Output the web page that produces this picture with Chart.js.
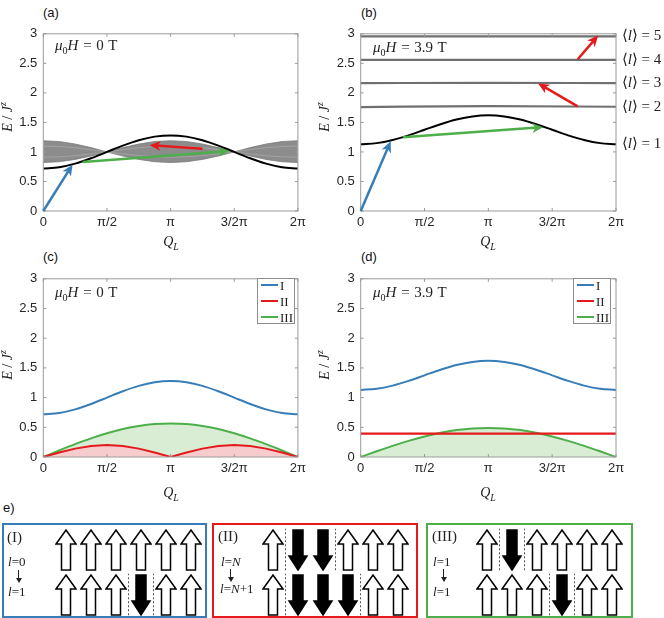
<!DOCTYPE html>
<html>
<head>
<meta charset="utf-8">
<script src="https://cdn.jsdelivr.net/npm/chart.js@4.4.1/dist/chart.umd.min.js"></script>
<style>
body { margin: 0; background: #fff; width: 664px; height: 618px; position: relative; overflow: hidden; font-family: "Liberation Sans", Arial, sans-serif; }
canvas { position: absolute; }
.pl { position: absolute; font-size: 13px; color: #111; line-height: 1; }
.m { position: absolute; font-family: "Liberation Serif", "DejaVu Serif", serif; font-size: 14px; color: #222; white-space: nowrap; line-height: 1; }
.mu { font-size: 15px; word-spacing: 1px; }
.mid { transform: translateY(-50%); }
.ctr { transform: translate(-50%, -50%); }
.ylab { transform: translate(-50%, -50%) rotate(-90deg); }
.m sub, .m sup { font-size: 10px; line-height: 0; }
.dn { position: absolute; width: 1px; height: 9px; background: #222; }
.dn::after { content: ""; position: absolute; left: -2.5px; top: 8px; border-left: 3px solid transparent; border-right: 3px solid transparent; border-top: 5px solid #222; }
.ebox { position: absolute; box-sizing: border-box; border: 2px solid; background: #fff; }
.lg { position: absolute; box-sizing: border-box; border: 1px solid #8c8c8c; background: #fff; }
.lg .ln { position: absolute; height: 2px; }
.lg .tx { position: absolute; font-family: "Liberation Serif", serif; font-size: 13px; color: #222; line-height: 1; transform: translateY(-50%); }
</style>
</head>
<body>
<canvas id="cA" width="310" height="221" style="left:0;top:20px"></canvas>
<canvas id="cB" width="346" height="221" style="left:318px;top:20px"></canvas>
<canvas id="cC" width="310" height="222" style="left:0;top:265px"></canvas>
<canvas id="cD" width="346" height="222" style="left:318px;top:265px"></canvas>

<div class="ebox" style="left:2px;top:523px;width:205px;height:95px;border-color:#377eb8"><canvas id="eI" width="201" height="91" style="left:0;top:0"></canvas></div>
<div class="ebox" style="left:212px;top:523px;width:206px;height:95px;border-color:#e41a1c"><canvas id="eII" width="202" height="91" style="left:0;top:0"></canvas></div>
<div class="ebox" style="left:426px;top:523px;width:207px;height:95px;border-color:#4daf4a"><canvas id="eIII" width="203" height="91" style="left:0;top:0"></canvas></div>

<div class="pl" style="left:43px;top:6px">(a)</div>
<div class="pl" style="left:361px;top:6px">(b)</div>
<div class="pl" style="left:43px;top:250px">(c)</div>
<div class="pl" style="left:361px;top:250px">(d)</div>
<div class="pl" style="left:3px;top:501px">e)</div>

<div class="m ylab" style="left:8px;top:117px"><i>E</i> / <i>J</i><sup><i>z</i></sup></div>
<div class="m ylab" style="left:325px;top:117px"><i>E</i> / <i>J</i><sup><i>z</i></sup></div>
<div class="m ylab" style="left:8px;top:365px"><i>E</i> / <i>J</i><sup><i>z</i></sup></div>
<div class="m ylab" style="left:325px;top:365px"><i>E</i> / <i>J</i><sup><i>z</i></sup></div>

<div class="m ctr" style="left:171px;top:242px"><i>Q</i><sub><i>L</i></sub></div>
<div class="m ctr" style="left:488px;top:242px"><i>Q</i><sub><i>L</i></sub></div>
<div class="m ctr" style="left:171px;top:493px"><i>Q</i><sub><i>L</i></sub></div>
<div class="m ctr" style="left:488px;top:493px"><i>Q</i><sub><i>L</i></sub></div>

<div class="m mu mid" style="left:55px;top:45px"><i>μ</i><sub>0</sub><i>H</i> = 0 T</div>
<div class="m mu mid" style="left:373px;top:47px"><i>μ</i><sub>0</sub><i>H</i> = 3.9 T</div>
<div class="m mu mid" style="left:55px;top:292px"><i>μ</i><sub>0</sub><i>H</i> = 0 T</div>
<div class="m mu mid" style="left:373px;top:292px"><i>μ</i><sub>0</sub><i>H</i> = 3.9 T</div>

<div class="m mid" style="left:7px;top:537px;font-size:15px">(I)</div>
<div class="m mid" style="left:8px;top:561px;font-size:13px"><i>l</i>=0</div>
<div class="dn" style="left:18px;top:570px"></div>
<div class="m mid" style="left:8px;top:591px;font-size:13px"><i>l</i>=1</div>

<div class="m mid" style="left:218px;top:536px;font-size:15px">(II)</div>
<div class="m mid" style="left:221px;top:561px;font-size:13px"><i>l</i>=<i>N</i></div>
<div class="dn" style="left:230px;top:569px"></div>
<div class="m mid" style="left:220px;top:588px;font-size:13px"><i>l</i>=<i>N</i>+1</div>

<div class="m mid" style="left:432px;top:536px;font-size:15px">(III)</div>
<div class="m mid" style="left:433px;top:561px;font-size:13px"><i>l</i>=1</div>
<div class="dn" style="left:443px;top:569px"></div>
<div class="m mid" style="left:433px;top:591px;font-size:13px"><i>l</i>=1</div>

<script>
// momentum grid (in units of pi) and tick labels
const Q = [0, 0.125, 0.25, 0.375, 0.5, 0.625, 0.75, 0.875, 1, 1.125, 1.25, 1.375, 1.5, 1.625, 1.75, 1.875, 2];
const qEnds = [0, 2];
const qMid = [0, 1, 2];
const qTicks = [0, 0.5, 1, 1.5, 2];
const qTickLabels = ["0", "π/2", "π", "3/2π", "2π"];
const eTicks = [0, 0.5, 1, 1.5, 2, 2.5, 3];

// (a) 0 T
const oneMagnonA = [0.72, 0.741, 0.802, 0.893, 1.0, 1.107, 1.198, 1.259, 1.28, 1.259, 1.198, 1.107, 1.0, 0.893, 0.802, 0.741, 0.72];
const bandUpA = [1.19, 1.176, 1.134, 1.073, 1.0, 1.073, 1.134, 1.176, 1.19, 1.176, 1.134, 1.073, 1.0, 1.073, 1.134, 1.176, 1.19];
const bandLowA = [0.82, 0.834, 0.873, 0.931, 1.0, 0.931, 0.873, 0.834, 0.82, 0.834, 0.873, 0.931, 1.0, 0.931, 0.873, 0.834, 0.82];
const bandInUpA = [1.1, 1.092, 1.071, 1.038, 1.0, 1.038, 1.071, 1.092, 1.1, 1.092, 1.071, 1.038, 1.0, 1.038, 1.071, 1.092, 1.1];
const bandInLowA = [0.91, 0.917, 0.936, 0.966, 1.0, 0.966, 0.936, 0.917, 0.91, 0.917, 0.936, 0.966, 1.0, 0.966, 0.936, 0.917, 0.91];

// (b) 3.9 T
const oneMagnonB = [1.13, 1.149, 1.202, 1.281, 1.375, 1.469, 1.548, 1.601, 1.62, 1.601, 1.548, 1.469, 1.375, 1.281, 1.202, 1.149, 1.13];
const level2B = [1.76, 1.775, 1.765];
const level3B = [2.165, 2.17, 2.165];
const level4B = [2.56, 2.56, 2.56];
const level5B = [2.955, 2.955, 2.955];
const levelNames = ["1", "2", "3", "4", "5"];

// (c) 0 T
const seriesNames = ["I", "II", "III"];
const energyIC = [0.72, 0.741, 0.802, 0.893, 1.0, 1.107, 1.198, 1.259, 1.28, 1.259, 1.198, 1.107, 1.0, 0.893, 0.802, 0.741, 0.72];
const energyIIC = [0, 0.077, 0.141, 0.185, 0.2, 0.185, 0.141, 0.077, 0, 0.077, 0.141, 0.185, 0.2, 0.185, 0.141, 0.077, 0];
const energyIIIC = [0, 0.11, 0.216, 0.314, 0.4, 0.47, 0.522, 0.554, 0.565, 0.554, 0.522, 0.47, 0.4, 0.314, 0.216, 0.11, 0];

// (d) 3.9 T
const energyID = [1.13, 1.149, 1.202, 1.281, 1.375, 1.469, 1.548, 1.601, 1.62, 1.601, 1.548, 1.469, 1.375, 1.281, 1.202, 1.149, 1.13];
const energyIID = [0.395, 0.395];
const energyIIID = [0, 0.096, 0.188, 0.272, 0.346, 0.407, 0.453, 0.481, 0.49, 0.481, 0.453, 0.407, 0.346, 0.272, 0.188, 0.096, 0];

// transition arrows [Q, E] in data units
const arrowsA = [
  { from: [0, 0], to: [0.23, 0.785], c: "blue" },
  { from: [0.31, 0.83], to: [1.46, 1.015], c: "green" },
  { from: [1.25, 1.055], to: [0.835, 1.115], c: "red" },
];
const arrowsB = [
  { from: [0, 0], to: [0.235, 1.18], c: "blue" },
  { from: [0.33, 1.25], to: [1.43, 1.42], c: "green" },
  { from: [1.7, 1.77], to: [1.39, 2.16], c: "red" },
  { from: [1.7, 2.57], to: [1.86, 2.97], c: "red" },
];

// (e) spin chains, top row then bottom row; domain walls per row
const spinsI = [[1, 1, 1, 1, 1, 1], [1, 1, 1, -1, 1, 1]];
const wallsI = [[], [2.5, 3.5]];
const spinsII = [[1, -1, -1, 1, 1, 1], [1, -1, -1, -1, 1, 1]];
const wallsII = [[0.5, 2.5], [0.5, 3.5]];
const spinsIII = [[1, -1, 1, 1, 1, 1], [1, 1, 1, -1, 1, 1]];
const wallsIII = [[0.5, 1.5], [2.5, 3.5]];

const colors = { blue: "#377eb8", red: "#e41a1c", green: "#4daf4a" };
const FONT = '"Liberation Sans", Arial, sans-serif';
const SERIF = '"Liberation Serif", "DejaVu Serif", serif';

function pts(xs, ys) {
  return ys.map(function (y, i) { return { x: xs[i], y: y }; });
}

function lineDs(xs, ys, color, width, extra) {
  return Object.assign({
    data: pts(xs, ys),
    showLine: true,
    borderColor: color,
    borderWidth: width,
    pointRadius: 0,
    fill: false,
    tension: 0,
    cubicInterpolationMode: "monotone",
  }, extra || {});
}

// matlab-like box with inward ticks
const boxPlugin = {
  id: "mbox",
  afterDatasetsDraw: function (chart) {
    const ctx = chart.ctx, a = chart.chartArea, sx = chart.scales.x, sy = chart.scales.y;
    ctx.save();
    ctx.strokeStyle = "#9a9a9a";
    ctx.lineWidth = 1;
    ctx.strokeRect(a.left, a.top, a.right - a.left, a.bottom - a.top);
    ctx.beginPath();
    qTicks.forEach(function (v) {
      const x = sx.getPixelForValue(v);
      ctx.moveTo(x, a.bottom); ctx.lineTo(x, a.bottom - 3);
      ctx.moveTo(x, a.top); ctx.lineTo(x, a.top + 3);
    });
    eTicks.forEach(function (v) {
      const y = sy.getPixelForValue(v);
      ctx.moveTo(a.left, y); ctx.lineTo(a.left + 3, y);
      ctx.moveTo(a.right, y); ctx.lineTo(a.right - 3, y);
    });
    ctx.stroke();
    ctx.restore();
  },
};

// transition arrows drawn in data coordinates
const arrowPlugin = {
  id: "arrows",
  afterDatasetsDraw: function (chart, args, opts) {
    const ctx = chart.ctx, sx = chart.scales.x, sy = chart.scales.y;
    (opts.list || []).forEach(function (ar) {
      const x0 = sx.getPixelForValue(ar.from[0]), y0 = sy.getPixelForValue(ar.from[1]);
      const x1 = sx.getPixelForValue(ar.to[0]), y1 = sy.getPixelForValue(ar.to[1]);
      const ang = Math.atan2(y1 - y0, x1 - x0);
      const col = colors[ar.c];
      ctx.save();
      ctx.strokeStyle = col;
      ctx.fillStyle = col;
      ctx.lineWidth = 2.5;
      ctx.beginPath();
      ctx.moveTo(x0, y0);
      ctx.lineTo(x1 - 6 * Math.cos(ang), y1 - 6 * Math.sin(ang));
      ctx.stroke();
      ctx.translate(x1, y1);
      ctx.rotate(ang);
      ctx.beginPath();
      ctx.moveTo(0, 0);
      ctx.lineTo(-11, -5);
      ctx.lineTo(-8, 0);
      ctx.lineTo(-11, 5);
      ctx.closePath();
      ctx.fill();
      ctx.restore();
    });
  },
};

// <l> = n labels on the right of (b)
const levelPlugin = {
  id: "levels",
  afterDraw: function (chart, args, opts) {
    if (!opts.values) return;
    const ctx = chart.ctx, a = chart.chartArea, sy = chart.scales.y;
    ctx.save();
    ctx.fillStyle = "#222";
    ctx.textBaseline = "middle";
    opts.values.forEach(function (v, i) {
      const y = sy.getPixelForValue(v);
      let x = a.right + 6;
      const parts = [["⟨", "15px " + SERIF], ["l", "italic 15px " + SERIF], ["⟩ = " + opts.names[i], "15px " + SERIF]];
      parts.forEach(function (p) {
        ctx.font = p[1];
        ctx.fillText(p[0], x, y);
        x += ctx.measureText(p[0]).width;
      });
    });
    ctx.restore();
  },
};

function makePanel(id, datasets, lay, pluginOpts) {
  return new Chart(document.getElementById(id), {
    type: "scatter",
    data: { datasets: datasets },
    options: {
      responsive: false,
      animation: false,
      events: [],
      layout: { autoPadding: false, padding: { top: lay.top, right: lay.right, left: 0, bottom: 0 } },
      plugins: Object.assign({ legend: { display: false }, tooltip: { enabled: false } }, pluginOpts),
      scales: {
        x: {
          type: "linear", min: 0, max: 2,
          grid: { display: false, drawTicks: false },
          border: { display: false },
          afterBuildTicks: function (s) { s.ticks = qTicks.map(function (v) { return { value: v }; }); },
          afterFit: function (s) { s.height = 30; },
          ticks: {
            padding: 4, color: "#262626", font: { family: FONT, size: 13 }, maxRotation: 0, autoSkip: false,
            callback: function (v, i) { return qTickLabels[i]; },
          },
        },
        y: {
          type: "linear", min: 0, max: 3,
          grid: { display: false, drawTicks: false },
          border: { display: false },
          afterBuildTicks: function (s) { s.ticks = eTicks.map(function (v) { return { value: v }; }); },
          afterFit: function (s) { s.width = lay.yw; },
          ticks: {
            padding: 6, color: "#262626", font: { family: FONT, size: 13 },
            callback: function (v) { return String(v); },
          },
        },
      },
    },
    plugins: [boxPlugin, arrowPlugin, levelPlugin],
  });
}

// (a)
makePanel("cA", [
  lineDs(Q, oneMagnonA, "#000", 2),
  lineDs(Q, bandInUpA, "#a8a8a8", 0.8, { cubicInterpolationMode: "default" }),
  lineDs(Q, bandInLowA, "#a8a8a8", 0.8, { cubicInterpolationMode: "default" }),
  lineDs(Q, bandUpA, "#7c7c7c", 0.8, { cubicInterpolationMode: "default" }),
  lineDs(Q, bandLowA, "#7c7c7c", 0.8, { cubicInterpolationMode: "default", fill: "-1", backgroundColor: "#8c8c8c" }),
], { top: 11.5, right: 11, yw: 43.3 }, { arrows: { list: arrowsA } });

// (b)
makePanel("cB", [
  lineDs(Q, oneMagnonB, "#000", 2),
  lineDs(qMid, level2B, "#707070", 2.2),
  lineDs(qMid, level3B, "#707070", 2.2),
  lineDs(qMid, level4B, "#707070", 2.2),
  lineDs(qMid, level5B, "#707070", 2.2),
], { top: 11.5, right: 48, yw: 42.7 }, {
  arrows: { list: arrowsB },
  levels: {
    values: [oneMagnonB[oneMagnonB.length - 1], level2B[2], level3B[2], level4B[2], level5B[2]],
    names: levelNames,
  },
});

// (c)
makePanel("cC", [
  lineDs(Q, energyIC, colors.blue, 2),
  lineDs(Q, energyIIC, colors.red, 2, { cubicInterpolationMode: "default", fill: "origin", backgroundColor: "#f7cccc" }),
  lineDs(Q, energyIIIC, colors.green, 2, { fill: "origin", backgroundColor: "#d9edd5" }),
], { top: 11, right: 11, yw: 43.3 }, {});

// (d)
makePanel("cD", [
  lineDs(Q, energyID, colors.blue, 2),
  lineDs(qEnds, energyIID, colors.red, 2.2),
  lineDs(Q, energyIIID, colors.green, 2, { fill: "origin", backgroundColor: "#d9edd5" }),
], { top: 11, right: 48, yw: 42.7 }, {});

// legends for (c) and (d)
const legendColors = [colors.blue, colors.red, colors.green];
[[257, 278], [573, 278]].forEach(function (pos) {
  const box = document.createElement("div");
  box.className = "lg";
  box.style.left = pos[0] + "px";
  box.style.top = pos[1] + "px";
  box.style.width = "38px";
  box.style.height = "46px";
  seriesNames.forEach(function (name, i) {
    const ln = document.createElement("div");
    ln.className = "ln";
    ln.style.left = "3px";
    ln.style.width = "17px";
    ln.style.top = (5 + i * 16) + "px";
    ln.style.background = legendColors[i];
    box.appendChild(ln);
    const tx = document.createElement("div");
    tx.className = "tx";
    tx.style.left = "22px";
    tx.style.top = (6 + i * 16) + "px";
    tx.textContent = name;
    box.appendChild(tx);
  });
  document.body.appendChild(box);
});

// (e) spin arrows
function arrowImg(up) {
  const c = document.createElement("canvas");
  c.width = 22; c.height = 42;
  const g = c.getContext("2d");
  g.beginPath();
  if (up) {
    g.moveTo(11, 1); g.lineTo(21, 15); g.lineTo(15.5, 15); g.lineTo(15.5, 41);
    g.lineTo(6.5, 41); g.lineTo(6.5, 15); g.lineTo(1, 15);
  } else {
    g.moveTo(11, 41); g.lineTo(20, 27); g.lineTo(16, 27); g.lineTo(16, 1);
    g.lineTo(6, 1); g.lineTo(6, 27); g.lineTo(2, 27);
  }
  g.closePath();
  g.fillStyle = up ? "#fff" : "#000";
  g.fill();
  g.lineWidth = 1.5;
  g.strokeStyle = "#000";
  g.stroke();
  return c;
}
const upImg = arrowImg(true);
const downImg = arrowImg(false);

function makeChain(id, spins, walls, xr) {
  const datasets = [];
  const spinPts = [];
  spins.forEach(function (row, r) {
    row.forEach(function (s, k) { spinPts.push({ x: k, y: 1 - r, s: s }); });
  });
  datasets.push({
    data: spinPts,
    pointRadius: 10,
    pointStyle: function (ctx) { return ctx.raw && ctx.raw.s < 0 ? downImg : upImg; },
  });
  walls.forEach(function (row, r) {
    row.forEach(function (p) {
      datasets.push({
        data: [{ x: p, y: 1 - r - 0.45 }, { x: p, y: 1 - r + 0.47 }],
        showLine: true, pointRadius: 0, borderColor: "#555", borderWidth: 1, borderDash: [2, 2],
      });
    });
  });
  return new Chart(document.getElementById(id), {
    type: "scatter",
    data: { datasets: datasets },
    options: {
      responsive: false,
      animation: false,
      events: [],
      layout: { autoPadding: false, padding: 0 },
      plugins: { legend: { display: false }, tooltip: { enabled: false } },
      scales: {
        x: { type: "linear", display: false, min: xr[0], max: xr[1] },
        y: { type: "linear", display: false, min: -0.467, max: 1.556 },
      },
    },
  });
}

makeChain("eI", spinsI, wallsI, [-2.48, 5.56]);
makeChain("eII", spinsII, wallsII, [-2.36, 5.72]);
makeChain("eIII", spinsIII, wallsIII, [-2.36, 5.76]);
</script>
</body>
</html>
